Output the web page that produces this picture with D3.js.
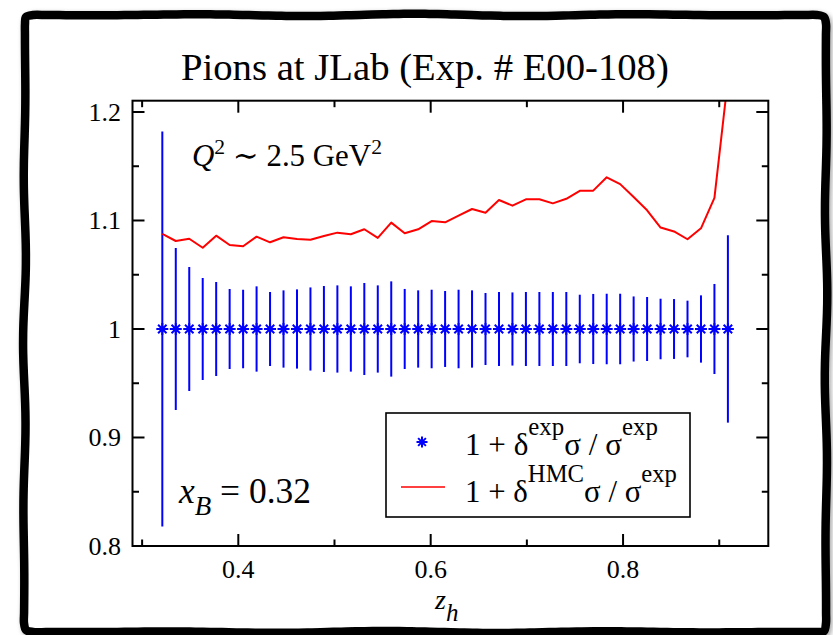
<!DOCTYPE html>
<html>
<head>
<meta charset="utf-8">
<script src="https://cdn.jsdelivr.net/npm/d3@7"></script>
<style>
  html, body { margin: 0; padding: 0; background: #fff; }
  svg { display: block; }
  svg text { font-family: 'Liberation Serif', 'DejaVu Serif', serif; fill: #000; }
</style>
</head>
<body>
<svg id="chart" width="833" height="635"></svg>
<script>
// ---- data ----
const zh = [0.321, 0.335, 0.349, 0.363, 0.377, 0.391, 0.405, 0.419, 0.433, 0.447,
            0.461, 0.475, 0.489, 0.503, 0.517, 0.531, 0.545, 0.559, 0.573, 0.587,
            0.601, 0.615, 0.629, 0.643, 0.657, 0.671, 0.685, 0.699, 0.713, 0.727,
            0.741, 0.755, 0.769, 0.783, 0.797, 0.811, 0.825, 0.839, 0.853, 0.867,
            0.881, 0.895, 0.909];
const expVal = [1, 1, 1, 1, 1, 1, 1, 1, 1, 1,
                1, 1, 1, 1, 1, 1, 1, 1, 1, 1,
                1, 1, 1, 1, 1, 1, 1, 1, 1, 1,
                1, 1, 1, 1, 1, 1, 1, 1, 1, 1,
                1, 1, 1];
const expErr = [0.182, 0.0747, 0.0571, 0.047, 0.0433, 0.0369, 0.0362, 0.0393, 0.0341, 0.0356,
                0.0365, 0.0383, 0.0396, 0.0402, 0.0393, 0.0424, 0.0402, 0.0439, 0.0369, 0.0356,
                0.0362, 0.035, 0.0362, 0.0356, 0.0332, 0.0341, 0.0337, 0.0341, 0.0341, 0.0341,
                0.0341, 0.0316, 0.0323, 0.0325, 0.0325, 0.030, 0.0295, 0.0279, 0.0276, 0.0261,
                0.031, 0.0415, 0.0863];
const hmcVal = [1.0876, 1.0811, 1.0832, 1.0749, 1.0860, 1.0774, 1.0762, 1.0851, 1.0799, 1.0845,
                1.0829, 1.0823, 1.0857, 1.0888, 1.0873, 1.0919, 1.0839, 1.0980, 1.0882, 1.0919,
                1.0995, 1.0983, 1.1044, 1.1106, 1.1072, 1.1189, 1.1137, 1.1195, 1.1195, 1.1158,
                1.1200, 1.1273, 1.1275, 1.1398, 1.1335, 1.1216, 1.1094, 1.0935, 1.0899, 1.0827,
                1.0928, 1.1208, 1.2300];
const xMajorTicks = [0.4, 0.6, 0.8];
const xMinorTicks = [0.3, 0.5, 0.7, 0.9];
const yMajorTicks = [0.8, 0.9, 1.0, 1.1, 1.2];
const yMinorTicks = [0.85, 0.95, 1.05, 1.15];
const xTickLabels = ["0.4", "0.6", "0.8"];
const yTickLabels = ["0.8", "0.9", "1", "1.1", "1.2"];
const titleText = "Pions at JLab (Exp. # E00-108)";

// ---- layout ----
const FONT = "'Liberation Serif', 'DejaVu Serif', serif";
const svg = d3.select("#chart");
const L = 132.5, R = 768.3, T = 100.7, B = 546;
const x = d3.scaleLinear().domain([0.29, 0.951]).range([L, R]);
const y = d3.scaleLinear().domain([0.8, 1.2104]).range([B, T]);

function fitWidth(sel, target) {
  const n = sel.node();
  const w = n.getBBox().width;
  const fs = parseFloat(sel.attr("font-size"));
  sel.attr("font-size", fs * target / w);
}

// ---- hand drawn frame ----
const defs = svg.append("defs");
const f = defs.append("filter").attr("id", "sh").attr("x", "-5%").attr("y", "-5%").attr("width", "110%").attr("height", "110%");
f.append("feGaussianBlur").attr("in", "SourceAlpha").attr("stdDeviation", 2.5).attr("result", "b");
f.append("feOffset").attr("in", "b").attr("dx", 2).attr("dy", 2).attr("result", "o");
f.append("feComponentTransfer").attr("in", "o").attr("result", "o2")
  .append("feFuncA").attr("type", "linear").attr("slope", 0.35);
const fm = f.append("feMerge");
fm.append("feMergeNode").attr("in", "o2");
fm.append("feMergeNode").attr("in", "SourceGraphic");

function wobble(x0, y0, x1, y1, n, amp, ph) {
  const pts = [];
  for (let i = 0; i <= n; i++) {
    const t = i / n;
    const px = x0 + (x1 - x0) * t, py = y0 + (y1 - y0) * t;
    const dx = -(y1 - y0), dy = (x1 - x0);
    const len = Math.hypot(dx, dy);
    const o = amp * Math.sin(t * Math.PI * 7 + ph) * Math.sin(t * Math.PI);
    pts.push([px + dx / len * o, py + dy / len * o]);
  }
  return pts;
}
const rr = 9;
const fx0 = 24, fx1 = 826, fy0 = 15, fy1 = 632;
let framePts = [];
framePts = framePts.concat(wobble(fx0 + rr, fy0, fx1 - rr, fy0, 60, 1.2, 0.3));
framePts.push([fx1 - 2, fy0 + 2]);
framePts = framePts.concat(wobble(fx1, fy0 + rr, fx1, fy1 - rr, 60, 1.3, 1.1));
framePts.push([fx1 - 2, fy1 - 1]);
framePts = framePts.concat(wobble(fx1 - rr, fy1, fx0 + rr, fy1, 60, 1.0, 2.0));
framePts.push([fx0 + 2, fy1 - 2]);
framePts = framePts.concat(wobble(fx0, fy1 - rr, fx0 + 1, fy0 + rr, 60, 1.4, 0.7));
framePts.push([fx0 + 2, fy0 + 2]);
svg.append("path")
  .attr("d", d3.line().curve(d3.curveCatmullRomClosed)(framePts))
  .attr("fill", "#fff").attr("stroke", "#000").attr("stroke-width", 8.5)
  .attr("stroke-linejoin", "round").attr("filter", "url(#sh)");

// ---- title ----
const title = svg.append("text").attr("x", 181).attr("y", 80)
  .attr("font-family", FONT).attr("font-size", 38).text(titleText);
fitWidth(title, 488);

// ---- plot clip ----
defs.append("clipPath").attr("id", "clip").append("rect")
  .attr("x", L).attr("y", T).attr("width", R - L).attr("height", B - T);

const plot = svg.append("g").attr("clip-path", "url(#clip)");

// error bars
plot.append("g").selectAll("line").data(zh).join("line")
  .attr("x1", d => x(d)).attr("x2", d => x(d))
  .attr("y1", (d, i) => y(expVal[i] + expErr[i]))
  .attr("y2", (d, i) => y(expVal[i] - expErr[i]))
  .attr("stroke", "#0000ff").attr("stroke-width", 2);

// red HMC line
plot.append("path")
  .attr("d", d3.line().x((d, i) => x(zh[i])).y(d => y(d))(hmcVal))
  .attr("fill", "none").attr("stroke", "#ff0000").attr("stroke-width", 2)
  .attr("stroke-linejoin", "round");

// asterisk markers
function starPath(r) {
  const c = r * Math.SQRT1_2;
  return `M${-r},0L${r},0M0,${-r}L0,${r}M${-c},${-c}L${c},${c}M${-c},${c}L${c},${-c}`;
}
plot.append("g").selectAll("path").data(zh).join("path")
  .attr("transform", (d, i) => `translate(${x(d)},${y(expVal[i])})`)
  .attr("d", starPath(6))
  .attr("fill", "none").attr("stroke", "#0000ff").attr("stroke-width", 2);

// ---- axes frame & ticks ----
const ax = svg.append("g").attr("stroke", "#000").attr("fill", "none");
ax.append("rect").attr("x", L).attr("y", T).attr("width", R - L).attr("height", B - T)
  .attr("stroke-width", 2);
const MJ = 12, MN = 6.5;
xMajorTicks.forEach(v => {
  ax.append("line").attr("x1", x(v)).attr("x2", x(v)).attr("y1", B).attr("y2", B - MJ).attr("stroke-width", 2);
  ax.append("line").attr("x1", x(v)).attr("x2", x(v)).attr("y1", T).attr("y2", T + MJ).attr("stroke-width", 2);
});
xMinorTicks.forEach(v => {
  ax.append("line").attr("x1", x(v)).attr("x2", x(v)).attr("y1", B).attr("y2", B - MN).attr("stroke-width", 2);
  ax.append("line").attr("x1", x(v)).attr("x2", x(v)).attr("y1", T).attr("y2", T + MN).attr("stroke-width", 2);
});
yMajorTicks.forEach(v => {
  ax.append("line").attr("y1", y(v)).attr("y2", y(v)).attr("x1", L).attr("x2", L + MJ).attr("stroke-width", 2);
  ax.append("line").attr("y1", y(v)).attr("y2", y(v)).attr("x1", R).attr("x2", R - MJ).attr("stroke-width", 2);
});
yMinorTicks.forEach(v => {
  ax.append("line").attr("y1", y(v)).attr("y2", y(v)).attr("x1", L).attr("x2", L + MN).attr("stroke-width", 2);
  ax.append("line").attr("y1", y(v)).attr("y2", y(v)).attr("x1", R).attr("x2", R - MN).attr("stroke-width", 2);
});

// tick labels
svg.append("g").selectAll("text").data(xMajorTicks).join("text")
  .attr("font-family", FONT)
  .attr("x", d => x(d)).attr("y", 578).attr("text-anchor", "middle")
  .attr("font-size", 26).text((d, i) => xTickLabels[i]);
svg.append("g").selectAll("text").data(yMajorTicks).join("text")
  .attr("font-family", FONT)
  .attr("x", 121).attr("y", d => y(d) + 9).attr("text-anchor", "end")
  .attr("font-size", 26).text((d, i) => yTickLabels[i]);

// x axis label z_h
const xl = svg.append("text").attr("font-family", FONT).attr("x", 435).attr("y", 609)
  .attr("font-size", 28).attr("font-style", "italic");
xl.append("tspan").text("z");
xl.append("tspan").attr("font-size", 25).attr("dy", 12).text("h");

// annotations
const q = svg.append("text").attr("font-family", FONT).attr("x", 192).attr("y", 166).attr("font-size", 27);
q.append("tspan").attr("font-style", "italic").text("Q");
q.append("tspan").attr("font-size", "0.7em").attr("dy", "-0.55em").text("2");
q.append("tspan").attr("dy", "0.385em").text(" \u223C 2.5 GeV");
q.append("tspan").attr("font-size", "0.7em").attr("dy", "-0.55em").text("2");
fitWidth(q, 190);

const xb = svg.append("text").attr("font-family", FONT).attr("x", 179).attr("y", 503).attr("font-size", 34);
xb.append("tspan").attr("font-style", "italic").text("x");
xb.append("tspan").attr("font-style", "italic").attr("font-size", "0.76em").attr("dy", "0.45em").text("B");
xb.append("tspan").attr("dy", "-0.342em").text(" = 0.32");
fitWidth(xb, 133);

// ---- legend ----
const lg = svg.append("g");
lg.append("rect").attr("x", 386).attr("y", 413).attr("width", 304).attr("height", 104)
  .attr("fill", "#fff").attr("stroke", "#000").attr("stroke-width", 1.6);
lg.append("path").attr("transform", "translate(422,442)").attr("d", starPath(5.5))
  .attr("fill", "none").attr("stroke", "#0000ff").attr("stroke-width", 2);
lg.append("line").attr("x1", 401).attr("x2", 445).attr("y1", 487).attr("y2", 487)
  .attr("stroke", "#ff0000").attr("stroke-width", 1.6);

function legendText(yb, sup1, target) {
  const t = lg.append("text").attr("font-family", FONT).attr("x", 465).attr("y", yb).attr("font-size", 27);
  t.append("tspan").text("1 + \u03B4");
  t.append("tspan").attr("font-size", "0.8em").attr("dy", "-0.8em").text(sup1);
  t.append("tspan").attr("dy", "0.64em").text("\u03C3 / \u03C3");
  t.append("tspan").attr("font-size", "0.8em").attr("dy", "-0.8em").text("exp");
  fitWidth(t, target);
}
legendText(455, "exp", 193);
legendText(502, "HMC", 212);
</script>
</body>
</html>
